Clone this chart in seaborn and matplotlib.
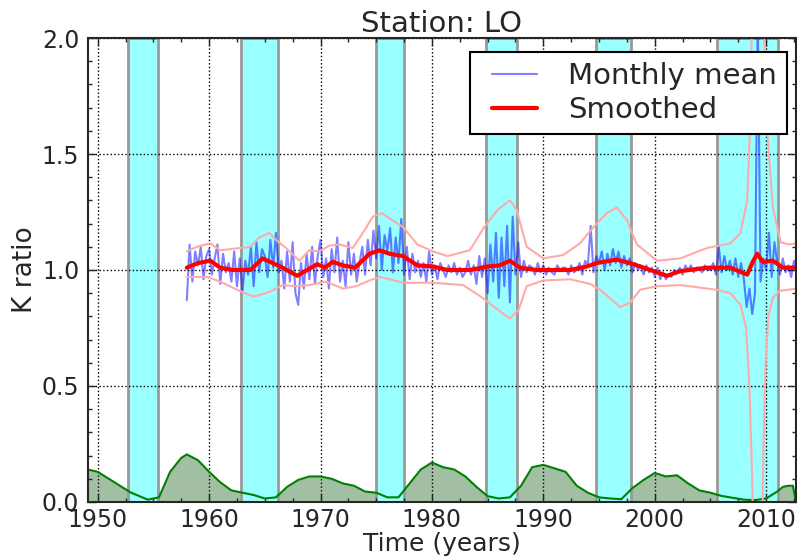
import matplotlib
matplotlib.use('Agg')
import matplotlib.pyplot as plt
import matplotlib.ticker as mticker
from matplotlib.lines import Line2D
from matplotlib.legend_handler import HandlerLine2D
import seaborn as sns
import numpy as np
import pandas as pd

# solar minimum periods (shaded bands)
BAND_START = [1952.7, 1962.9, 1975.0, 1984.9, 1994.7, 2005.6]
BAND_END = [1955.4, 1966.2, 1977.5, 1987.6, 1997.9, 2011.1]

# sunspot-like activity curve at the bottom
ACT_YEAR = [1949.1, 1950, 1951, 1952, 1953, 1954, 1954.5, 1955.5, 1956.5, 1957.5,
            1958, 1959, 1960, 1961, 1962, 1963, 1964, 1965, 1966, 1967,
            1968, 1969, 1970, 1971, 1972, 1973, 1974, 1975, 1976, 1977,
            1978, 1979, 1980, 1981, 1982, 1983, 1984, 1985, 1986, 1987,
            1988, 1989, 1990, 1991, 1992, 1993, 1994, 1995, 1996, 1997,
            1998, 1999, 2000, 2001, 2002, 2003, 2004, 2005, 2006, 2007,
            2008, 2009, 2010, 2011, 2011.5, 2012, 2012.4, 2012.7]
ACT_VAL = [0.14, 0.13, 0.10, 0.07, 0.04, 0.02, 0.01, 0.02, 0.13, 0.19,
           0.205, 0.18, 0.13, 0.085, 0.05, 0.04, 0.03, 0.015, 0.02, 0.065,
           0.095, 0.11, 0.11, 0.10, 0.08, 0.07, 0.045, 0.04, 0.02, 0.02,
           0.08, 0.14, 0.17, 0.15, 0.14, 0.11, 0.065, 0.025, 0.015, 0.02,
           0.07, 0.15, 0.16, 0.145, 0.13, 0.07, 0.04, 0.02, 0.015, 0.012,
           0.06, 0.095, 0.125, 0.11, 0.115, 0.08, 0.05, 0.04, 0.026, 0.018,
           0.01, 0.008, 0.015, 0.045, 0.065, 0.07, 0.07, 0.0]

# monthly K ratio, sampled per quarter (one row per year)
MONTHLY_FIRST_YEAR = 1958
MONTHLY_ROWS = [
    [0.87, 1.11, 0.95, 1.08], [1.02, 1.10, 0.96, 1.06], [1.09, 0.98, 1.05, 1.11],
    [0.94, 1.07, 0.99, 1.03], [0.95, 1.08, 0.93, 1.05], [0.91, 1.04, 0.98, 1.10],
    [0.93, 1.12, 0.99, 1.09], [1.06, 0.97, 1.13, 1.01], [1.16, 0.99, 1.04, 0.92],
    [1.08, 0.95, 1.12, 0.90], [0.85, 1.03, 0.92, 1.07], [0.96, 1.10, 0.94, 1.06],
    [1.13, 0.97, 1.05, 0.92], [1.09, 0.99, 1.14, 0.95], [1.04, 0.93, 1.12, 0.98],
    [1.07, 0.95, 1.03, 1.10], [0.98, 1.13, 1.02, 1.17], [1.05, 1.19, 1.00, 1.15],
    [1.08, 1.18, 0.99, 1.14], [1.03, 1.22, 0.98, 1.10], [0.96, 1.07, 0.99, 1.04],
    [0.97, 1.03, 0.95, 1.08], [0.98, 1.02, 0.96, 1.03], [1.00, 0.97, 1.02, 0.99],
    [1.03, 0.98, 1.01, 0.97], [0.99, 1.04, 0.98, 1.02], [0.94, 1.06, 0.97, 1.05],
    [0.90, 1.11, 0.95, 1.16], [0.88, 1.14, 0.93, 1.19], [0.86, 1.23, 0.98, 1.12],
    [0.97, 1.04, 0.99, 1.02], [1.01, 0.98, 1.03, 0.99], [1.02, 0.98, 1.01, 0.99],
    [0.98, 1.02, 1.00, 1.01], [1.01, 0.98, 1.02, 0.99], [1.00, 1.03, 0.98, 1.04],
    [1.02, 1.19, 0.99, 1.06], [1.03, 1.08, 1.00, 1.07], [1.02, 1.09, 1.03, 1.08],
    [1.01, 1.06, 1.02, 1.05], [0.99, 1.03, 1.00, 1.02], [0.98, 1.02, 0.99, 1.01],
    [0.97, 1.01, 0.96, 0.99], [0.96, 0.98, 0.97, 1.00], [0.99, 1.01, 0.98, 1.02],
    [1.00, 1.02, 0.99, 1.01], [1.01, 0.99, 1.02, 1.00], [1.00, 1.03, 0.98, 1.10],
    [0.99, 1.06, 1.00, 1.04], [0.98, 1.05, 0.97, 1.03], [0.96, 0.84, 0.92, 0.81],
    [0.90, 2.10, 0.95, 1.05], [1.00, 1.16, 0.97, 1.12], [1.03, 0.98, 1.05, 0.99],
    [1.02, 0.97, 1.04, 1.00],
]

# smoothed curve
SMOOTH_YEAR = [1958.0, 1959.0, 1960.1, 1961.0, 1962.1, 1963.7, 1964.8, 1965.7, 1966.6,
               1967.9, 1968.8, 1969.7, 1970.4, 1971.1, 1972.0, 1973.1, 1974.4, 1975.3,
               1976.2, 1977.4, 1978.7, 1980.1, 1981.4, 1983.4, 1985.0, 1986.1, 1987.0,
               1987.9, 1989.4, 1992.4, 1993.9, 1994.8, 1996.6, 1998.1, 1999.6, 2001.1,
               2002.3, 2004.7, 2006.8, 2008.3, 2008.8, 2009.2, 2009.7, 2010.6, 2011.5,
               2012.7]
SMOOTH_VAL = [1.01, 1.03, 1.04, 1.01, 1.0, 1.0, 1.05, 1.03, 1.01,
              0.975, 1.0, 1.025, 1.01, 1.035, 1.02, 1.01, 1.07, 1.085,
              1.07, 1.06, 1.02, 1.015, 1.0, 1.0, 1.015, 1.02, 1.04,
              1.01, 1.0, 1.0, 1.015, 1.03, 1.045, 1.025, 1.0, 0.975,
              0.995, 1.01, 1.01, 0.98, 1.035, 1.07, 1.035, 1.04, 1.01,
              1.01]

# confidence envelope
UPPER_YEAR = [1958.0, 1958.9, 1960.1, 1961.0, 1962.8, 1963.7, 1964.5, 1965.4, 1966.0,
              1966.9, 1968.1, 1969.0, 1969.9, 1970.8, 1971.7, 1972.9, 1973.8, 1974.7,
              1975.5, 1977.4, 1978.7, 1980.1, 1981.4, 1983.4, 1984.7, 1985.9, 1987.0,
              1987.6, 1988.5, 1990.0, 1991.8, 1993.3, 1994.5, 1995.7, 1996.6, 1997.5,
              1998.4, 2000.2, 2002.3, 2004.7, 2006.8, 2007.7, 2008.3, 2008.55, 2008.8,
              2009.2, 2009.65, 2010.1, 2010.6, 2011.3, 2012.0, 2012.7]
UPPER_VAL = [1.08, 1.10, 1.115, 1.085, 1.095, 1.10, 1.14, 1.16, 1.13,
             1.095, 1.04, 1.085, 1.08, 1.105, 1.11, 1.095, 1.16, 1.23,
             1.245, 1.185, 1.11, 1.08, 1.06, 1.085, 1.185, 1.26, 1.30,
             1.26, 1.10, 1.05, 1.065, 1.115, 1.185, 1.245, 1.27, 1.215,
             1.11, 1.04, 1.05, 1.095, 1.115, 1.16, 1.30, 1.6, 2.3,
             3.0, 2.3, 1.6, 1.27, 1.12, 1.11, 1.115]
LOWER_YEAR = [1958.0, 1959.8, 1961.0, 1962.5, 1964.0, 1965.4, 1966.6, 1967.9, 1969.0,
              1970.5, 1972.0, 1973.2, 1974.4, 1975.3, 1976.2, 1977.4, 1980.1, 1982.8,
              1984.4, 1985.9, 1987.0, 1987.8, 1988.5, 1990.0, 1992.4, 1994.2, 1995.1,
              1996.9, 1997.8, 1998.7, 2000.2, 2002.3, 2005.5, 2006.8, 2007.7, 2008.2,
              2008.5, 2008.75, 2008.9, 2009.2, 2009.6, 2009.75, 2009.95, 2010.2, 2010.6,
              2011.2, 2012.0, 2012.7]
LOWER_VAL = [0.97, 0.97, 0.95, 0.915, 0.885, 0.905, 0.935, 0.93, 0.935,
             0.95, 0.92, 0.93, 0.955, 0.97, 0.96, 0.945, 0.945, 0.935,
             0.885, 0.83, 0.79, 0.83, 0.93, 0.955, 0.96, 0.94, 0.915,
             0.84, 0.86, 0.915, 0.93, 0.935, 0.915, 0.9, 0.85, 0.75,
             0.5, 0.1, -0.3, -1.0, -0.3, 0.2, 0.6, 0.8, 0.88,
             0.91, 0.915, 0.92]

sns.set_style('ticks')
plt.rcParams.update({
    'font.family': ['DejaVu Sans'],
    'font.size': 17,
    'xtick.direction': 'in',
    'ytick.direction': 'in',
    'xtick.top': True,
    'ytick.right': True,
})

monthly = pd.DataFrame({
    'year': [MONTHLY_FIRST_YEAR + i + q * 0.25
             for i, row in enumerate(MONTHLY_ROWS) for q in range(len(row))],
    'k': [v for row in MONTHLY_ROWS for v in row],
})
smooth = pd.DataFrame({'year': SMOOTH_YEAR, 'k': SMOOTH_VAL})
upper = pd.DataFrame({'year': UPPER_YEAR, 'k': UPPER_VAL})
lower = pd.DataFrame({'year': LOWER_YEAR, 'k': LOWER_VAL})

fig = plt.figure(figsize=(7.97, 5.59), dpi=100)
ax = fig.add_axes([0.110, 0.102, 0.889, 0.830])

ax.fill_between(ACT_YEAR, 0, ACT_VAL, color='#a3bfa3', lw=0, zorder=1)
for a, b in zip(BAND_START, BAND_END):
    ax.axvspan(a, b, facecolor='#99ffff', edgecolor='#999999', lw=2, zorder=2)
ax.plot(ACT_YEAR, ACT_VAL, color='green', lw=1.5, zorder=3)

sns.lineplot(data=monthly, x='year', y='k', ax=ax, color='blue', alpha=0.5,
             lw=1.5, label='Monthly mean', zorder=4, estimator=None, sort=False)
sns.lineplot(data=upper, x='year', y='k', ax=ax, color='#ffaaaa', lw=1.5,
             zorder=4, estimator=None, sort=False)
sns.lineplot(data=lower, x='year', y='k', ax=ax, color='#ffaaaa', lw=1.5,
             zorder=4, estimator=None, sort=False)
sns.lineplot(data=smooth, x='year', y='k', ax=ax, color='red', lw=3,
             label='Smoothed', zorder=5, estimator=None, sort=False)

ax.set_xlim(1949.1, 2012.7)
ax.set_ylim(0, 2.0)
ax.xaxis.set_major_locator(mticker.MultipleLocator(10))
ax.xaxis.set_minor_locator(mticker.MultipleLocator(2.5))
ax.yaxis.set_major_locator(mticker.MultipleLocator(0.5))
ax.yaxis.set_minor_locator(mticker.MultipleLocator(0.1))
ax.yaxis.set_major_formatter(mticker.FormatStrFormatter('%.1f'))
ax.tick_params(which='major', length=6, width=1, labelsize=17)
ax.tick_params(axis='y', which='major', pad=6)
ax.tick_params(axis='x', which='major', pad=4)
ax.tick_params(which='minor', length=3, width=1)
ax.grid(True, which='major', color='black', ls=':', lw=1, zorder=0)
ax.set_axisbelow(False)
for s in ax.spines.values():
    s.set_linewidth(1.5)
    s.set_zorder(6)

ax.set_title('Station: LO', fontsize=21, pad=2)
ax.set_xlabel('Time (years)', fontsize=18, labelpad=0)
ax.set_ylabel('K ratio', fontsize=19, labelpad=3)

leg = ax.legend(loc='upper right', bbox_to_anchor=(0.987, 0.970), borderaxespad=0,
                fontsize=21, fancybox=False, framealpha=1, edgecolor='black',
                handlelength=1.97, handletextpad=1.05, borderpad=0.35,
                labelspacing=0.2, handler_map={Line2D: HandlerLine2D(xpad=0.42)})
leg.get_frame().set_linewidth(1.5)
leg.set_zorder(7)

fig.savefig('out.png', dpi=100)
